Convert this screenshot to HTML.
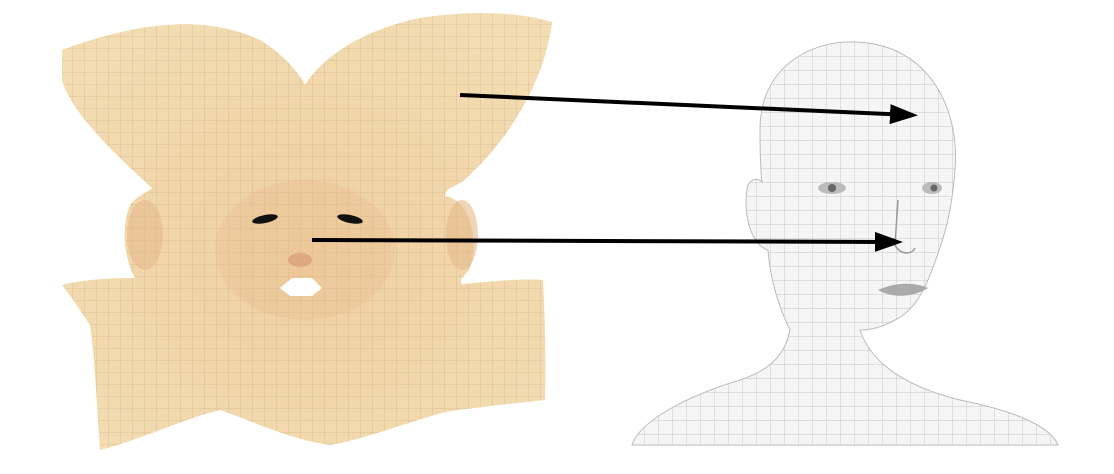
<!DOCTYPE html>
<html><head><meta charset="utf-8"><style>
html,body{margin:0;padding:0;background:#fff;width:1114px;height:474px;overflow:hidden}
</style></head><body>
<svg width="1114" height="474" viewBox="0 0 1114 474" xmlns="http://www.w3.org/2000/svg">
<defs>
<pattern id="tanGrid" width="12" height="12" patternUnits="userSpaceOnUse">
<path d="M12 0H0V12" fill="none" stroke="#b39670" stroke-width="0.8" opacity="0.5"/>
</pattern>
<pattern id="grayGrid" width="14" height="14" patternUnits="userSpaceOnUse">
<path d="M14 0H0V14" fill="none" stroke="#8a8a8a" stroke-width="0.7" opacity="0.6"/>
</pattern>
<radialGradient id="tanGrad" cx="0.5" cy="0.55" r="0.6">
<stop offset="0" stop-color="#efcfa0"/><stop offset="1" stop-color="#f3dcb2"/>
</radialGradient>
<marker id="ah" markerWidth="7" markerHeight="5" refX="5" refY="2.5" orient="auto" markerUnits="strokeWidth">
<path d="M0,0 L7,2.5 L0,5 Z" fill="#000"/>
</marker>
<clipPath id="headClip">
<path d="M760,130 C760,60 820,40 855,42 C930,44 960,110 955,170 C952,210 945,235 935,262 C925,290 915,310 895,320 C880,328 870,330 860,330 C870,360 900,385 960,400 C1010,410 1050,425 1058,445 L632,445 C640,420 690,395 740,380 C770,370 785,355 790,330 C780,310 770,280 768,250 C750,245 742,210 748,185 C752,178 758,178 762,182 C760,165 760,145 760,130 Z"/>
</clipPath>
</defs>

<g>
<path d="M62,50 C130,25 200,12 260,40 C285,55 300,75 305,85 C320,60 360,30 420,18 C470,10 520,12 552,22 C545,80 510,140 462,182 C450,188 445,190 445,196 C470,200 480,240 470,268 C465,276 458,280 462,284 C490,282 520,278 543,280 C545,320 546,360 545,400 C500,405 470,408 445,412 C400,425 360,440 330,445 C290,440 250,420 220,410 C180,420 140,440 100,450 C97,410 95,360 90,325 C80,310 70,295 62,285 C80,280 110,278 135,278 C125,260 120,230 130,205 C138,195 148,192 152,188 C110,150 70,110 62,80 Z" fill="url(#tanGrad)"/>
<path d="M62,50 C130,25 200,12 260,40 C285,55 300,75 305,85 C320,60 360,30 420,18 C470,10 520,12 552,22 C545,80 510,140 462,182 C450,188 445,190 445,196 C470,200 480,240 470,268 C465,276 458,280 462,284 C490,282 520,278 543,280 C545,320 546,360 545,400 C500,405 470,408 445,412 C400,425 360,440 330,445 C290,440 250,420 220,410 C180,420 140,440 100,450 C97,410 95,360 90,325 C80,310 70,295 62,285 C80,280 110,278 135,278 C125,260 120,230 130,205 C138,195 148,192 152,188 C110,150 70,110 62,80 Z" fill="url(#tanGrid)"/>
<ellipse cx="145" cy="235" rx="18" ry="35" fill="#e6b98a" opacity="0.6"/>
<ellipse cx="462" cy="235" rx="16" ry="35" fill="#e6b98a" opacity="0.6"/>
<ellipse cx="305" cy="250" rx="90" ry="70" fill="#e9b98a" opacity="0.3"/>
<ellipse cx="265" cy="219" rx="13" ry="4" fill="#111" transform="rotate(-12 265 219)"/>
<ellipse cx="350" cy="219" rx="13" ry="4" fill="#111" transform="rotate(12 350 219)"/>
<ellipse cx="300" cy="260" rx="12" ry="7" fill="#d9a07a" opacity="0.8"/>
<path d="M280,288 L292,278 L312,278 L322,288 L312,296 L290,296 Z" fill="#fff"/>
</g>

<g>
<g clip-path="url(#headClip)">
<rect x="620" y="30" width="450" height="420" fill="#f5f5f5"/>
<rect x="620" y="30" width="450" height="420" fill="url(#grayGrid)"/>
</g>
<path d="M760,130 C760,60 820,40 855,42 C930,44 960,110 955,170 C952,210 945,235 935,262 C925,290 915,310 895,320 C880,328 870,330 860,330 C870,360 900,385 960,400 C1010,410 1050,425 1058,445 L632,445 C640,420 690,395 740,380 C770,370 785,355 790,330 C780,310 770,280 768,250 C750,245 742,210 748,185 C752,178 758,178 762,182 C760,165 760,145 760,130 Z" fill="none" stroke="#bbb" stroke-width="1"/>
<ellipse cx="832" cy="188" rx="14" ry="6" fill="#bbb"/>
<circle cx="832" cy="188" r="4" fill="#666"/>
<ellipse cx="932" cy="188" rx="10" ry="6" fill="#bbb"/>
<circle cx="934" cy="188" r="3.5" fill="#666"/>
<path d="M878,290 C895,282 915,282 928,288 C912,298 892,298 878,290 Z" fill="#aaa"/>
<path d="M898,200 L895,245 C900,255 912,255 915,248" fill="none" stroke="#999" stroke-width="1.5"/>
</g>

<line x1="460" y1="95" x2="910" y2="115" stroke="#000" stroke-width="4" marker-end="url(#ah)"/>
<line x1="312" y1="240" x2="895" y2="242" stroke="#000" stroke-width="4" marker-end="url(#ah)"/>
</svg>
</body></html>
